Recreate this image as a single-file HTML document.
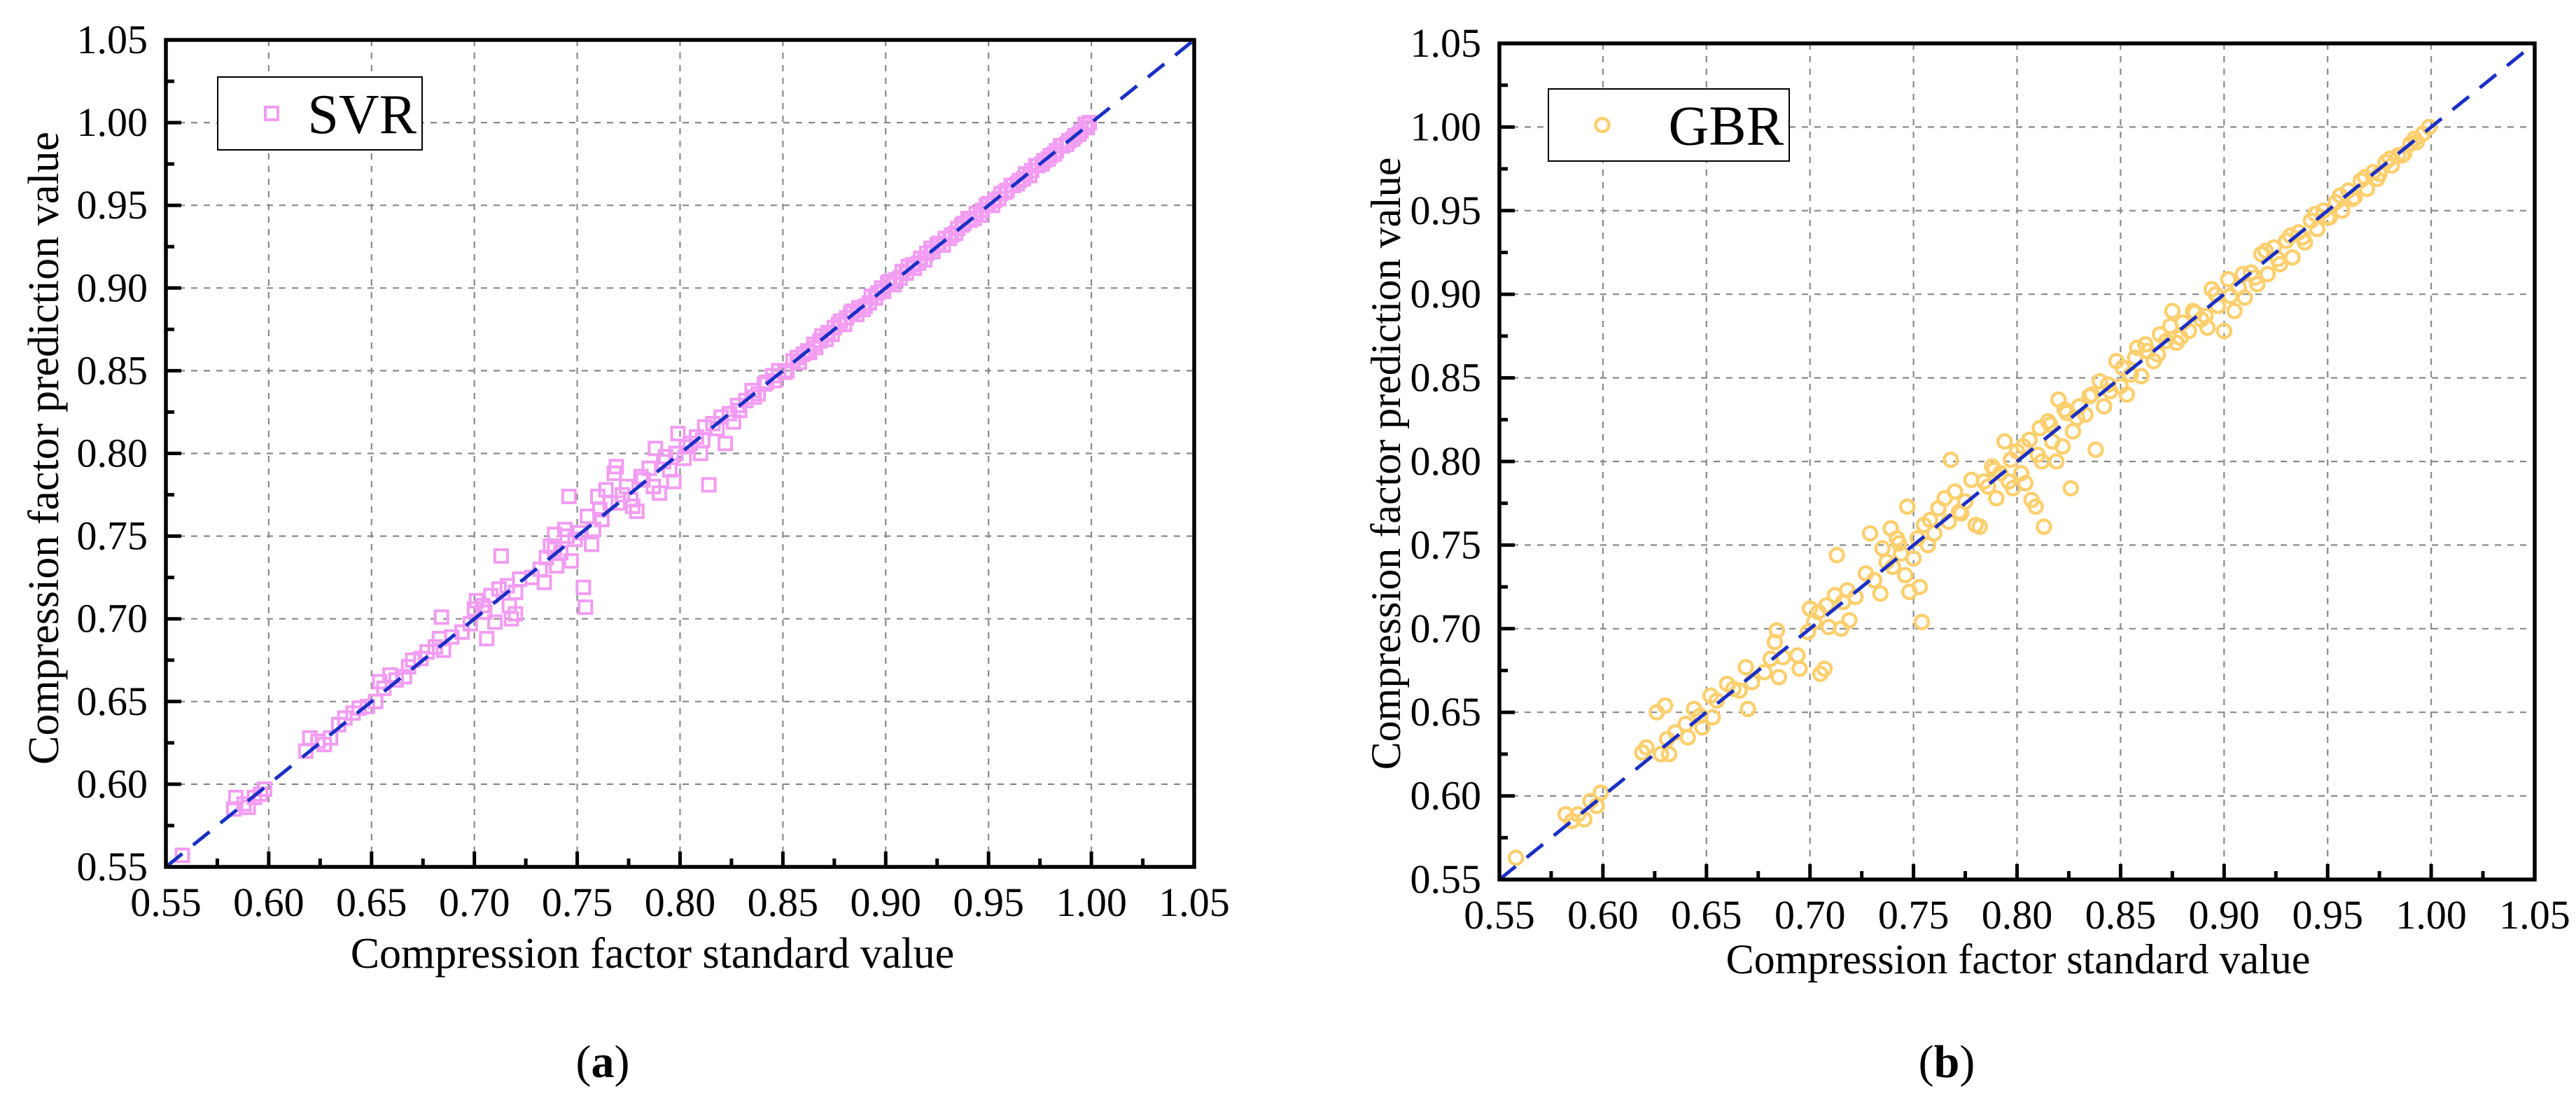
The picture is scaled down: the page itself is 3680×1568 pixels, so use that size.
<!DOCTYPE html>
<html><head><meta charset="utf-8">
<style>
html,body{margin:0;padding:0;background:#fff;}
svg, svg text{font-family:"Liberation Serif","Times New Roman",serif;}
svg{display:block;}
</style></head>
<body>
<svg id="fig" width="3680" height="1568" viewBox="0 0 3680 1568" xmlns="http://www.w3.org/2000/svg" font-family="Liberation Serif, serif">
<rect width="3680" height="1568" fill="#fff"/>
<g id="pa"></g>
<g id="pb"></g>
<text font-family="Liberation Serif, serif" x="861" y="1538" font-size="66" text-anchor="middle">(<tspan font-weight="bold">a</tspan>)</text>
<text font-family="Liberation Serif, serif" x="2781" y="1538" font-size="66" text-anchor="middle">(<tspan font-weight="bold">b</tspan>)</text>
</svg>
<script>
const tickValues = [0.55,0.60,0.65,0.70,0.75,0.80,0.85,0.90,0.95,1.00,1.05];
const tickLabels = ["0.55","0.60","0.65","0.70","0.75","0.80","0.85","0.90","0.95","1.00","1.05"];
const svrX = [0.558,0.583,0.584,0.588,0.590,0.593,0.596,0.598,0.618,0.620,0.624,0.627,0.630,0.634,0.637,0.641,0.644,0.648,0.652,0.654,0.656,0.659,0.662,0.666,0.668,0.670,0.674,0.677,0.681,0.683,0.684,0.685,0.689,0.694,0.698,0.700,0.701,0.704,0.705,0.706,0.708,0.710,0.712,0.713,0.716,0.717,0.718,0.720,0.720,0.722,0.728,0.732,0.734,0.735,0.737,0.739,0.740,0.742,0.744,0.746,0.747,0.749,0.751,0.753,0.754,0.755,0.757,0.758,0.760,0.762,0.764,0.766,0.768,0.769,0.770,0.772,0.774,0.777,0.779,0.782,0.785,0.787,0.788,0.790,0.792,0.795,0.797,0.798,0.799,0.802,0.805,0.808,0.810,0.812,0.814,0.816,0.820,0.822,0.824,0.826,0.828,0.832,0.835,0.838,0.842,0.845,0.848,0.852,0.855,0.858,0.862,0.865,0.868,0.872,0.875,0.878,0.881,0.884,0.887,0.890,0.893,0.896,0.899,0.902,0.905,0.908,0.911,0.914,0.917,0.920,0.923,0.926,0.929,0.932,0.935,0.938,0.941,0.944,0.947,0.950,0.953,0.956,0.959,0.962,0.965,0.968,0.971,0.974,0.977,0.980,0.983,0.986,0.989,0.992,0.995,0.998,0.999,0.851,0.857,0.863,0.869,0.874,0.880,0.886,0.892,0.898,0.904,0.910,0.916,0.922,0.928,0.934,0.940,0.946,0.952,0.958,0.964,0.970,0.976,0.982,0.988,0.994,0.997,0.739,0.745,0.761,0.776,0.781,0.793,0.803,0.811,0.818,0.829,0.836,0.841,0.846,0.860,0.866,0.871,0.877,0.883,0.889,0.895,0.901,0.907,0.913,0.919,0.925,0.931,0.937,0.943,0.949,0.955,0.961,0.967,0.973,0.979,0.985,0.991];
const svrY = [0.557,0.585,0.592,0.588,0.586,0.592,0.594,0.597,0.620,0.628,0.626,0.624,0.628,0.636,0.640,0.643,0.646,0.647,0.650,0.662,0.658,0.666,0.663,0.665,0.671,0.675,0.676,0.680,0.683,0.688,0.701,0.681,0.689,0.692,0.697,0.706,0.711,0.708,0.704,0.688,0.714,0.698,0.718,0.738,0.720,0.708,0.700,0.716,0.703,0.724,0.725,0.730,0.722,0.737,0.744,0.751,0.732,0.740,0.754,0.774,0.735,0.748,0.752,0.719,0.707,0.762,0.745,0.754,0.774,0.760,0.778,0.770,0.788,0.792,0.770,0.775,0.780,0.768,0.765,0.784,0.791,0.780,0.803,0.776,0.795,0.790,0.783,0.800,0.812,0.797,0.806,0.810,0.800,0.816,0.781,0.818,0.822,0.806,0.824,0.819,0.829,0.832,0.838,0.836,0.843,0.847,0.850,0.850,0.856,0.855,0.862,0.866,0.868,0.873,0.876,0.880,0.882,0.886,0.888,0.889,0.895,0.897,0.898,0.904,0.905,0.910,0.913,0.912,0.918,0.921,0.922,0.927,0.930,0.932,0.936,0.939,0.941,0.945,0.947,0.951,0.953,0.957,0.959,0.962,0.965,0.969,0.971,0.974,0.977,0.980,0.983,0.986,0.989,0.992,0.995,0.997,1.000,0.849,0.858,0.861,0.871,0.872,0.878,0.884,0.891,0.900,0.902,0.909,0.915,0.924,0.926,0.933,0.942,0.944,0.950,0.958,0.963,0.968,0.975,0.981,0.987,0.993,0.999,0.742,0.750,0.766,0.772,0.786,0.798,0.804,0.808,0.815,0.826,0.834,0.842,0.844,0.860,0.864,0.869,0.878,0.885,0.887,0.894,0.903,0.906,0.914,0.917,0.926,0.930,0.938,0.942,0.950,0.954,0.962,0.966,0.974,0.978,0.986,0.990];
const gbrX = [0.558,0.582,0.585,0.588,0.591,0.594,0.597,0.599,0.619,0.621,0.626,0.628,0.630,0.631,0.632,0.635,0.640,0.641,0.644,0.647,0.648,0.652,0.653,0.655,0.660,0.663,0.666,0.669,0.670,0.672,0.678,0.681,0.683,0.684,0.685,0.687,0.694,0.695,0.699,0.700,0.702,0.704,0.705,0.707,0.708,0.709,0.712,0.713,0.715,0.716,0.718,0.719,0.722,0.727,0.729,0.731,0.734,0.735,0.737,0.739,0.740,0.742,0.744,0.746,0.747,0.748,0.750,0.752,0.753,0.754,0.755,0.757,0.760,0.762,0.765,0.767,0.768,0.770,0.772,0.775,0.778,0.780,0.782,0.784,0.786,0.788,0.790,0.792,0.794,0.796,0.798,0.800,0.802,0.804,0.806,0.807,0.809,0.811,0.812,0.813,0.815,0.817,0.819,0.820,0.822,0.824,0.826,0.827,0.830,0.833,0.836,0.838,0.840,0.842,0.845,0.848,0.850,0.853,0.855,0.858,0.860,0.863,0.866,0.869,0.872,0.875,0.877,0.880,0.883,0.886,0.889,0.892,0.894,0.897,0.900,0.902,0.905,0.907,0.910,0.913,0.916,0.918,0.921,0.924,0.927,0.930,0.933,0.936,0.939,0.942,0.945,0.948,0.951,0.954,0.957,0.960,0.963,0.966,0.969,0.972,0.975,0.978,0.981,0.984,0.987,0.990,0.993,0.996,0.999,0.743,0.758,0.773,0.789,0.797,0.803,0.810,0.816,0.823,0.829,0.835,0.844,0.851,0.857,0.862,0.868,0.874,0.879,0.885,0.891,0.896,0.903,0.909,0.915,0.920,0.926,0.932,0.938,0.944,0.950,0.956,0.962,0.968,0.974,0.980,0.986,0.992];
const gbrY = [0.563,0.589,0.585,0.589,0.586,0.597,0.594,0.602,0.626,0.629,0.650,0.625,0.654,0.634,0.625,0.638,0.643,0.635,0.652,0.648,0.641,0.660,0.647,0.657,0.667,0.664,0.663,0.677,0.652,0.668,0.674,0.682,0.692,0.699,0.671,0.683,0.684,0.676,0.698,0.712,0.704,0.710,0.673,0.676,0.714,0.701,0.720,0.744,0.700,0.716,0.723,0.705,0.719,0.733,0.757,0.729,0.721,0.748,0.740,0.760,0.737,0.754,0.745,0.732,0.773,0.722,0.742,0.754,0.725,0.704,0.762,0.750,0.757,0.772,0.778,0.764,0.801,0.782,0.770,0.776,0.789,0.762,0.761,0.788,0.785,0.797,0.778,0.793,0.812,0.788,0.784,0.806,0.793,0.787,0.813,0.777,0.773,0.820,0.800,0.761,0.824,0.812,0.800,0.837,0.809,0.829,0.784,0.818,0.833,0.828,0.840,0.807,0.848,0.833,0.842,0.860,0.845,0.840,0.852,0.868,0.851,0.866,0.860,0.876,0.872,0.890,0.871,0.883,0.878,0.889,0.885,0.880,0.903,0.893,0.878,0.909,0.890,0.904,0.898,0.913,0.906,0.924,0.912,0.928,0.918,0.932,0.922,0.937,0.931,0.944,0.939,0.950,0.946,0.955,0.950,0.962,0.958,0.968,0.963,0.973,0.972,0.979,0.977,0.983,0.984,0.990,0.991,0.996,1.000,0.751,0.765,0.769,0.795,0.801,0.809,0.804,0.822,0.831,0.826,0.839,0.846,0.856,0.862,0.870,0.864,0.881,0.874,0.890,0.887,0.900,0.899,0.912,0.910,0.926,0.921,0.935,0.934,0.948,0.946,0.959,0.957,0.970,0.969,0.981,0.983,0.993];

const NS = "http://www.w3.org/2000/svg";
const FONT = "Liberation Serif, Times New Roman, serif";
function mk(parent, tag, attrs){
  const e = document.createElementNS(NS, tag);
  for (const k in attrs) e.setAttribute(k, attrs[k]);
  if (tag === 'text') e.setAttribute('font-family', FONT);
  parent.appendChild(e);
  return e;
}
function drawChart(g, cfg){
  const sx = v => cfg.left + (v - 0.55) / 0.5 * (cfg.right - cfg.left);
  const sy = v => cfg.bottom - (v - 0.55) / 0.5 * (cfg.bottom - cfg.top);
  const grid = mk(g, 'g', {});
  
  
  for (let i = 1; i < tickValues.length - 1; i++) {
    const v = tickValues[i];
    const gv = mk(grid, 'line', {x1: sx(v), x2: sx(v), y1: cfg.top, y2: cfg.bottom, stroke: '#8a8a8a', 'stroke-width': 2.2, 'stroke-dasharray': '9 9'});
    
    
    const gh = mk(grid, 'line', {x1: cfg.left, x2: cfg.right, y1: sy(v), y2: sy(v), stroke: '#8a8a8a', 'stroke-width': 2.2, 'stroke-dasharray': '9 9'});
    
    
  }
  const pts = mk(g, 'g', {});
  
  
  for (let i = 0; i < cfg.xs.length; i++) {
    const px = sx(cfg.xs[i]), py = sy(cfg.ys[i]);
    let m;
    if (cfg.marker === 'square') {
      m = mk(pts, 'rect', {x: px - 9, y: py - 9, width: 18, height: 18, fill: 'none', stroke: cfg.color, 'stroke-width': 4});
    } else {
      m = mk(pts, 'circle', {cx: px, cy: py, r: 9.5, fill: 'none', stroke: cfg.color, 'stroke-width': 4.5});
    }
    
    
  }
  const d = mk(g, 'line', {x1: sx(0.55), y1: sy(0.55), x2: sx(1.05), y2: sy(1.05), stroke: '#1a2fc4', 'stroke-width': 5, 'stroke-dasharray': '30 20'});
  
  
  const fr = mk(g, 'rect', {x: cfg.left, y: cfg.top, width: cfg.right - cfg.left, height: cfg.bottom - cfg.top, fill: 'none', stroke: '#000', 'stroke-width': 5.5});
  
  
  for (let i = 0; i < tickValues.length; i++) {
    const v = tickValues[i];
    const tx = mk(g, 'line', {x1: sx(v), x2: sx(v), y1: cfg.bottom, y2: cfg.bottom - 22, stroke: '#000', 'stroke-width': 5});
    
    
    const ty = mk(g, 'line', {x1: cfg.left, x2: cfg.left + 22, y1: sy(v), y2: sy(v), stroke: '#000', 'stroke-width': 5});
    
    
    if (i < tickValues.length - 1) {
      const mv = v + 0.025;
      const mx = mk(g, 'line', {x1: sx(mv), x2: sx(mv), y1: cfg.bottom, y2: cfg.bottom - 12, stroke: '#000', 'stroke-width': 5});
      
      
      const my = mk(g, 'line', {x1: cfg.left, x2: cfg.left + 12, y1: sy(mv), y2: sy(mv), stroke: '#000', 'stroke-width': 5});
      
      
    }
    const lx = mk(g, 'text', {x: sx(v), y: cfg.bottom + 70, 'font-size': cfg.tickFont, 'text-anchor': 'middle'});
    lx.textContent = tickLabels[i];
    
    
    const ly = mk(g, 'text', {x: cfg.left - 26, y: sy(v) + 19, 'font-size': cfg.tickFont, 'text-anchor': 'end'});
    ly.textContent = tickLabels[i];
    
    
  }
  const xt = mk(g, 'text', {x: cfg.xTitleX, y: cfg.xTitleY, 'font-size': cfg.titleFont, 'text-anchor': 'middle'});
  xt.textContent = 'Compression factor standard value';
  
  
  const yt = mk(g, 'text', {x: 0, y: 0, 'font-size': cfg.titleFont, 'text-anchor': 'middle', transform: 'translate(' + cfg.yTitleX + ',' + cfg.yTitleY + ') rotate(-90)'});
  yt.textContent = 'Compression factor prediction value';
  
  
  const lg = mk(g, 'g', {});
  
  
  mk(lg, 'rect', {x: cfg.legX, y: cfg.legY, width: cfg.legW, height: cfg.legH, fill: '#fff', stroke: '#000', 'stroke-width': 2});
  const lmx = cfg.legX + 77, lmy = cfg.legY + cfg.legH / 2;
  let lm;
  if (cfg.marker === 'square') lm = mk(lg, 'rect', {x: lmx - 9, y: lmy - 9, width: 18, height: 18, fill: 'none', stroke: cfg.color, 'stroke-width': 4});
  else lm = mk(lg, 'circle', {cx: lmx, cy: lmy, r: 9.5, fill: 'none', stroke: cfg.color, 'stroke-width': 4.5});
  
  
  const lt = mk(lg, 'text', {x: cfg.legX + cfg.legW - 8, y: lmy + 28, 'font-size': 80, 'text-anchor': 'end'});
  lt.textContent = cfg.label;
  
  
}
drawChart(document.getElementById('pa'), {name: 'svr', xs: svrX, ys: svrY, marker: 'square', color: '#f29cf2', label: 'SVR',
  left: 237, right: 1706, top: 57, bottom: 1238, tickFont: 58, titleFont: 62,
  xTitleX: 932, xTitleY: 1382, yTitleX: 83, yTitleY: 640,
  legX: 311, legY: 110, legW: 292, legH: 104});
drawChart(document.getElementById('pb'), {name: 'gbr', xs: gbrX, ys: gbrY, marker: 'circle', color: '#fdcf6e', label: 'GBR',
  left: 2142, right: 3621, top: 62, bottom: 1256, tickFont: 58, titleFont: 60,
  xTitleX: 2883, xTitleY: 1390, yTitleX: 2000, yTitleY: 662,
  legX: 2212, legY: 127, legW: 344, legH: 103});
</script>
</body></html>
